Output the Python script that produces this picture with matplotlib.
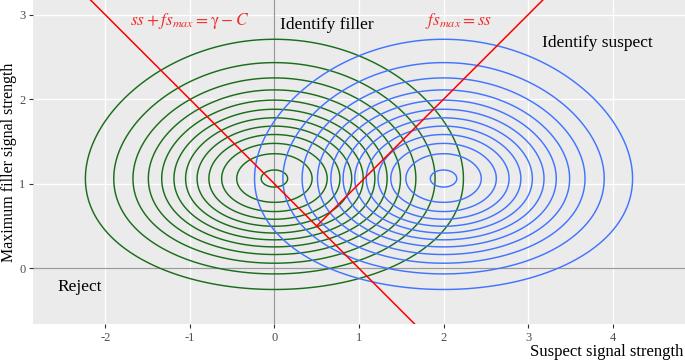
import math
import numpy as np
import matplotlib
matplotlib.use("Agg")
import matplotlib.pyplot as plt

# ---- data / model parameters ----
suspect_means = [0.0, 2.0]          # green: innocent suspect, blue: guilty suspect
series_colors = ["#1A6E1A", "#4274FF"]
n_fillers = 5                        # fs_max = max of 5 filler signals
contour_levels = [0.02, 0.04, 0.06, 0.08, 0.10, 0.12,
                  0.14, 0.16, 0.18, 0.20, 0.22, 0.24]
x_ticks = [-2, -1, 0, 1, 2, 3, 4]
y_ticks = [0, 1, 2, 3]
sum_criterion = 1.0                  # ss + fs_max = gamma - C
x_limits = [-2.851, 4.855]
y_limits = [-0.662, 3.174]

plt.rcParams["font.family"] = ["Liberation Serif", "DejaVu Serif"]
plt.rcParams["mathtext.fontset"] = "stix"

fig = plt.figure(figsize=(6.85, 3.63), dpi=100)
W, H = 685, 363
ax = fig.add_axes([33.3 / W, 1 - 324.3 / H, (W - 33.3) / W, 324.3 / H])
ax.set_facecolor("#EBEBEB")
for s in ax.spines.values():
    s.set_visible(False)

# grid
for xv in x_ticks:
    ax.axvline(xv, color="white", lw=1.0, zorder=0.5)
for yv in y_ticks:
    ax.axhline(yv, color="white", lw=1.0, zorder=0.5)
ax.axvline(0, color="#9A9A9A", lw=0.9, zorder=0.8)
ax.axhline(0, color="#9A9A9A", lw=0.9, zorder=0.8)

# density of (ss, fs_max)
xs = np.linspace(-3.5, 5.5, 600)
ys = np.linspace(-1.0, 3.6, 500)
phi_y = np.exp(-ys ** 2 / 2) / math.sqrt(2 * math.pi)
Phi_y = np.array([0.5 * (1 + math.erf(v / math.sqrt(2))) for v in ys])
g_y = n_fillers * phi_y * Phi_y ** (n_fillers - 1)
for mu, col in zip(suspect_means, series_colors):
    f_x = np.exp(-(xs - mu) ** 2 / 2) / math.sqrt(2 * math.pi)
    Z = np.outer(g_y, f_x)
    ax.contour(xs, ys, Z, levels=contour_levels, colors=col,
               linewidths=1.05, zorder=2)

# decision boundaries
ax.axline((0, sum_criterion), slope=-1, color="#FF0000", lw=1.1, zorder=3)
kink = sum_criterion / 2
ax.plot([kink, 10], [kink, 10], color="#FF0000", lw=1.1, zorder=3)

# annotations
ax.text(-1.0, 2.92, r"$ss + fs_{max} = \mathrm{\gamma} - C$", color="#F03030",
        fontsize=12.5, ha="center", va="center")
ax.text(2.18, 2.92, r"$fs_{max} = ss$", color="#F03030",
        fontsize=12.5, ha="center", va="center")
ax.text(0.07, 2.88, "Identify filler", fontsize=12.5, ha="left", va="center")
ax.text(3.16, 2.67, "Identify suspect", fontsize=12.5, ha="left", va="center")
ax.text(-2.56, -0.22, "Reject", fontsize=12.5, ha="left", va="center")

ax.set_xlim(x_limits)
ax.set_ylim(y_limits)
ax.set_xticks(x_ticks)
ax.set_yticks(y_ticks)
ax.set_xticklabels([str(v) for v in x_ticks])
ax.set_yticklabels([str(v) for v in y_ticks])
ax.tick_params(axis="both", colors="#333333", labelcolor="#4D4D4D",
               labelsize=9, length=3, width=0.8, pad=2.5)

fig.text(9.5 / W, 1 - 162 / H, "Maximum filler signal strength",
         rotation=90, fontsize=11.5, ha="center", va="center")
fig.text(683 / W, 1 - 352 / H, "Suspect signal strength",
         fontsize=12, ha="right", va="center")

fig.savefig("out.png", dpi=100)
